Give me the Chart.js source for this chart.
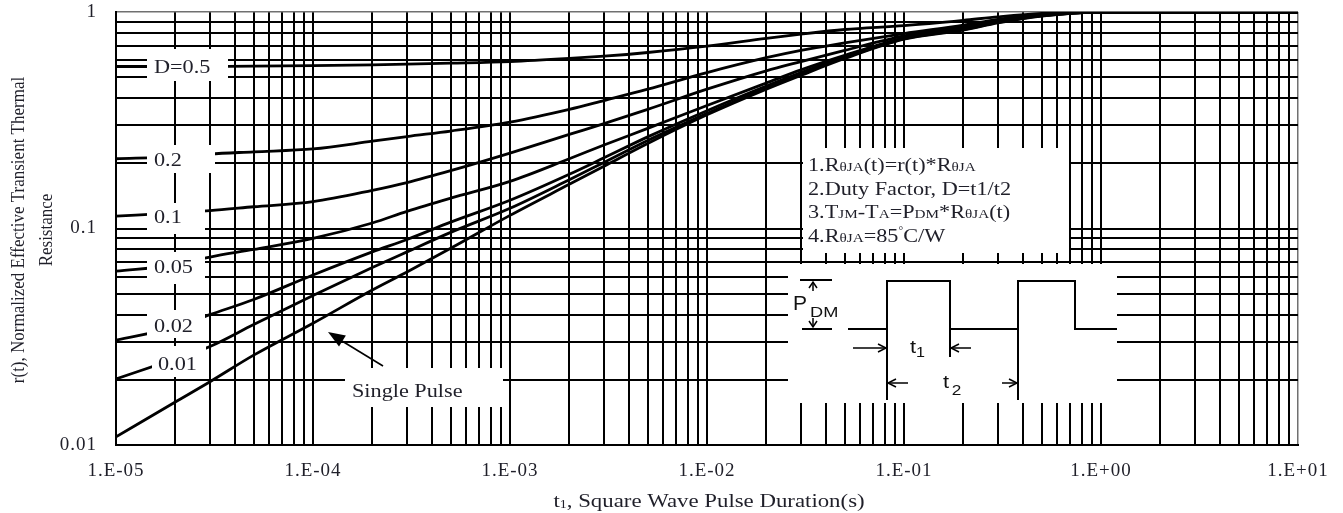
<!DOCTYPE html>
<html><head><meta charset="utf-8">
<script src="https://cdn.jsdelivr.net/npm/chart.js@4.4.1/dist/chart.umd.min.js"></script>
<style>html,body{margin:0;padding:0;background:#fff;overflow:hidden}canvas{display:block}</style>
</head><body>
<canvas id="c" width="1343" height="513"></canvas>
<script>
// ---- data ----
const durations = [1e-5, 2e-5, 3e-5, 5e-5, 1e-4, 2e-4, 3e-4, 5e-4, 1e-3, 2e-3, 3e-3, 5e-3, 1e-2, 2e-2, 3e-2, 5e-2, 1e-1, 2e-1, 3e-1, 5e-1, 1, 10];
const rD50 = [0.56, 0.56, 0.561, 0.562, 0.565, 0.57, 0.574, 0.58, 0.59, 0.61, 0.625, 0.65, 0.695, 0.755, 0.79, 0.83, 0.865, 0.915, 0.95, 0.985, 1, 1];
const rD20 = [0.21, 0.215, 0.221, 0.226, 0.233, 0.253, 0.266, 0.282, 0.31, 0.355, 0.39, 0.44, 0.525, 0.615, 0.665, 0.72, 0.795, 0.87, 0.925, 0.975, 1, 1];
const rD10 = [0.114, 0.118, 0.121, 0.126, 0.133, 0.150, 0.163, 0.185, 0.223, 0.272, 0.305, 0.355, 0.44, 0.535, 0.59, 0.665, 0.775, 0.86, 0.915, 0.97, 1, 1];
const rD05 = [0.0635, 0.068, 0.0738, 0.080, 0.090, 0.106, 0.120, 0.138, 0.165, 0.21, 0.243, 0.29, 0.37, 0.47, 0.54, 0.63, 0.76, 0.845, 0.905, 0.965, 1, 1];
const rD02 = [0.0305, 0.035, 0.040, 0.047, 0.061, 0.078, 0.089, 0.107, 0.135, 0.178, 0.212, 0.265, 0.35, 0.455, 0.525, 0.62, 0.755, 0.835, 0.9, 0.962, 1, 1];
const rD01 = [0.0202, 0.025, 0.0285, 0.036, 0.049, 0.066, 0.078, 0.096, 0.124, 0.168, 0.202, 0.255, 0.34, 0.447, 0.517, 0.615, 0.752, 0.83, 0.895, 0.96, 1, 1];
const rSingle = [0.0109, 0.0158, 0.0196, 0.026, 0.0365, 0.052, 0.063, 0.081, 0.115, 0.160, 0.194, 0.247, 0.335, 0.44, 0.51, 0.61, 0.75, 0.825, 0.89, 0.958, 1, 1];
const seriesNames = ['D=0.5', '0.2', '0.1', '0.05', '0.02', '0.01', 'Single Pulse'];
const seriesValues = [rD50, rD20, rD10, rD05, rD02, rD01, rSingle];

const xMajorValues = [1e-5, 1e-4, 1e-3, 1e-2, 1e-1, 1, 10];
const xTickLabels = ['1.E-05', '1.E-04', '1.E-03', '1.E-02', '1.E-01', '1.E+00', '1.E+01'];
const yMajorValues = [0.01, 0.1, 1];
const yTickLabels = ['0.01', '0.1', '1'];
const gridSignificands = [1, 2, 3, 4, 5, 6, 7, 8, 9];

const xTitle = ['t', '1', ', Square Wave Pulse Duration(s)'];
const yTitle = ['r(t), Normalized Effective Transient Thermal', 'Resistance'];

function gridFrom(majors) {
  const out = [];
  for (let i = 0; i < majors.length - 1; i++) gridSignificands.forEach(m => out.push(m * majors[i]));
  out.push(majors[majors.length - 1]);
  return out;
}
const xGridValues = gridFrom(xMajorValues);
const yGridValues = gridFrom(yMajorValues);
function findMajor(list, v) {
  return list.findIndex(m => Math.abs(v / m - 1) < 1e-6);
}

const SERIF = '"Liberation Serif", "Times New Roman", serif';
const SANS = '"Liberation Sans", Arial, sans-serif';
const TXT = '#1f1f29';
const SX = 1.17; // horizontal stretch of the original scan

function runText(ctx, segs, x, y, align, font, sx) {
  let w = 0;
  segs.forEach(s => { ctx.font = s[1] + 'px ' + font; w += ctx.measureText(s[0]).width; });
  ctx.save();
  ctx.translate(x, y);
  ctx.scale(sx, 1);
  let cx = align === 'center' ? -w / 2 : (align === 'right' ? -w : 0);
  ctx.textAlign = 'left';
  ctx.textBaseline = 'alphabetic';
  segs.forEach(s => {
    ctx.font = s[1] + 'px ' + font;
    ctx.fillText(s[0], cx, s[2] || 0);
    cx += ctx.measureText(s[0]).width;
  });
  ctx.restore();
}
function poly(ctx, pts) {
  ctx.beginPath();
  pts.forEach((p, i) => i ? ctx.lineTo(p[0], p[1]) : ctx.moveTo(p[0], p[1]));
  ctx.stroke();
}

const decor = {
  id: 'decor',
  beforeDraw(chart) { chart.ctx.letterSpacing = '1px'; },
  afterDraw(chart) {
    const ctx = chart.ctx;
    ctx.save();
    ctx.letterSpacing = '0px';
    ctx.fillStyle = '#fff';
    [[147, 49, 81, 32], [147, 145, 68, 28], [147, 203, 58, 31], [147, 252, 58, 32],
     [147, 310, 58, 28], [152, 346, 54, 31], [345, 368, 158, 39],
     [803, 148, 266, 105], [788, 264, 329, 139]].forEach(r => ctx.fillRect(r[0], r[1], r[2], r[3]));

    ctx.fillStyle = TXT;
    runText(ctx, [[seriesNames[0], 19]], 154, 73, 'left', SERIF, SX);
    runText(ctx, [[seriesNames[1], 19]], 154, 166, 'left', SERIF, SX);
    runText(ctx, [[seriesNames[2], 19]], 154, 223, 'left', SERIF, SX);
    runText(ctx, [[seriesNames[3], 19]], 154, 273, 'left', SERIF, SX);
    runText(ctx, [[seriesNames[4], 19]], 154, 331.5, 'left', SERIF, SX);
    runText(ctx, [[seriesNames[5], 19]], 158, 370, 'left', SERIF, SX);
    runText(ctx, [[seriesNames[6], 19]], 352, 396.5, 'left', SERIF, SX);

    ctx.strokeStyle = '#000';
    ctx.lineWidth = 1.6;
    poly(ctx, [[383, 366], [342, 341]]);
    ctx.fillStyle = '#000';
    {
      const tx = 328, ty = 332, dx = 383 - 328, dy = 366 - 332, L = Math.hypot(dx, dy);
      const ux = dx / L, uy = dy / L, hl = 17, hw = 6.5;
      ctx.beginPath();
      ctx.moveTo(tx, ty);
      ctx.lineTo(tx + ux * hl - uy * hw, ty + uy * hl + ux * hw);
      ctx.lineTo(tx + ux * hl + uy * hw, ty + uy * hl - ux * hw);
      ctx.closePath();
      ctx.fill();
    }

    ctx.fillStyle = TXT;
    runText(ctx, [['1.R', 19], ['\u03B8JA', 13], ['(t)=r(t)*R', 19], ['\u03B8JA', 13]], 808, 171, 'left', SERIF, SX);
    runText(ctx, [['2.Duty Factor, D=t1/t2', 19]], 808, 195, 'left', SERIF, SX);
    runText(ctx, [['3.T', 19], ['JM', 13], ['-T', 19], ['A', 13], ['=P', 19], ['DM', 13], ['*R', 19], ['\u03B8JA', 13], ['(t)', 19]], 808, 218, 'left', SERIF, SX);
    runText(ctx, [['4.R', 19], ['\u03B8JA', 13], ['=85', 19], ['\u00B0', 10, -8], ['C/W', 19]], 808, 242, 'left', SERIF, SX);

    ctx.strokeStyle = '#000';
    ctx.lineWidth = 2;
    poly(ctx, [[848, 329], [887, 329], [887, 281], [950, 281], [950, 329], [1018, 329], [1018, 281], [1075, 281], [1075, 329], [1117, 329]]);
    poly(ctx, [[887, 329], [887, 400]]);
    poly(ctx, [[950, 329], [950, 357]]);
    poly(ctx, [[1018, 329], [1018, 400]]);
    poly(ctx, [[800, 280], [832, 280]]);
    poly(ctx, [[802, 329], [832, 329]]);
    ctx.lineWidth = 1.5;
    poly(ctx, [[813, 291], [813, 282]]); poly(ctx, [[809, 288], [813, 282], [817, 288]]);
    poly(ctx, [[813, 318], [813, 327]]); poly(ctx, [[809, 321], [813, 327], [817, 321]]);
    poly(ctx, [[853, 348], [886, 348]]); poly(ctx, [[878, 344], [886, 348], [878, 352]]);
    poly(ctx, [[951, 348], [971, 348]]); poly(ctx, [[959, 344], [951, 348], [959, 352]]);
    poly(ctx, [[888, 383], [908, 383]]); poly(ctx, [[896, 379], [888, 383], [896, 387]]);
    poly(ctx, [[1002, 383], [1017, 383]]); poly(ctx, [[1009, 379], [1017, 383], [1009, 387]]);
    ctx.fillStyle = '#111';
    runText(ctx, [['P', 21]], 793, 310, 'left', SANS, 1.0);
    runText(ctx, [['DM', 14]], 810, 316.5, 'left', SANS, 1.3);
    runText(ctx, [['t', 19], ['1', 14, 4]], 910, 353, 'left', SANS, 1.15);
    runText(ctx, [['t', 19], [' ', 8], ['2', 15, 7]], 943, 388, 'left', SANS, 1.15);

    ctx.fillStyle = TXT;
    runText(ctx, [[xTitle[0], 19.5], [xTitle[1], 12, 1], [xTitle[2], 19.5]], 709, 506.5, 'center', SERIF, SX);
    [[yTitle[0], 17, 24], [yTitle[1], 17, 52]].forEach(t => {
      ctx.save();
      ctx.translate(t[2], 230);
      ctx.scale(SX, 1);
      ctx.rotate(-Math.PI / 2);
      ctx.font = t[1] + 'px ' + SERIF;
      ctx.textAlign = 'center';
      ctx.textBaseline = 'alphabetic';
      ctx.fillText(t[0], 0, 0);
      ctx.restore();
    });
    ctx.restore();
  }
};

const edgeColor = (c, edge) => (c.tick && Math.abs(c.tick.value / edge - 1) < 1e-6) ? '#707070' : '#000';

new Chart(document.getElementById('c'), {
  type: 'line',
  data: {
    datasets: seriesValues.map((vals, k) => ({
      label: seriesNames[k],
      data: durations.map((t, i) => ({ x: t, y: vals[i] })),
      borderColor: '#000',
      borderWidth: 2.8,
      pointRadius: 0,
      fill: false,
      cubicInterpolationMode: 'monotone'
    }))
  },
  options: {
    responsive: false,
    animation: false,
    devicePixelRatio: 1,
    layout: { padding: { left: 0, right: 45, top: 12, bottom: 0 } },
    plugins: { legend: { display: false }, tooltip: { enabled: false } },
    scales: {
      x: {
        type: 'logarithmic',
        min: 1e-5, max: 10,
        afterBuildTicks: ax => { ax.ticks = xGridValues.map(v => ({ value: v })); },
        afterFit: ax => { ax.height = 68; ax.paddingLeft = 0; ax.paddingRight = 0; },
        ticks: {
          autoSkip: false, maxRotation: 0, minRotation: 0, padding: 15,
          color: TXT, font: { family: SERIF, size: 19 },
          callback: v => { const i = findMajor(xMajorValues, v); return i >= 0 ? xTickLabels[i] : ''; }
        },
        grid: { drawTicks: false, lineWidth: c => (c.tick && Math.abs(c.tick.value / 10 - 1) < 1e-6) ? 1.5 : 2, color: c => edgeColor(c, 10) },
        border: { display: true, color: '#000', width: 2 }
      },
      y: {
        type: 'logarithmic',
        min: 0.01, max: 1,
        afterBuildTicks: ax => { ax.ticks = yGridValues.map(v => ({ value: v })); },
        afterFit: ax => { ax.width = 116; ax.paddingTop = 0; ax.paddingBottom = 0; },
        ticks: {
          autoSkip: false, padding: 19,
          color: TXT, font: { family: SERIF, size: 19 },
          callback: v => { const i = findMajor(yMajorValues, v); return i >= 0 ? yTickLabels[i] : ''; }
        },
        grid: { drawTicks: false, lineWidth: c => (c.tick && Math.abs(c.tick.value - 1) < 1e-6) ? 1.5 : 2, color: c => edgeColor(c, 1) },
        border: { display: true, color: '#000', width: 2 }
      }
    }
  },
  plugins: [decor]
});
</script>
</body></html>
